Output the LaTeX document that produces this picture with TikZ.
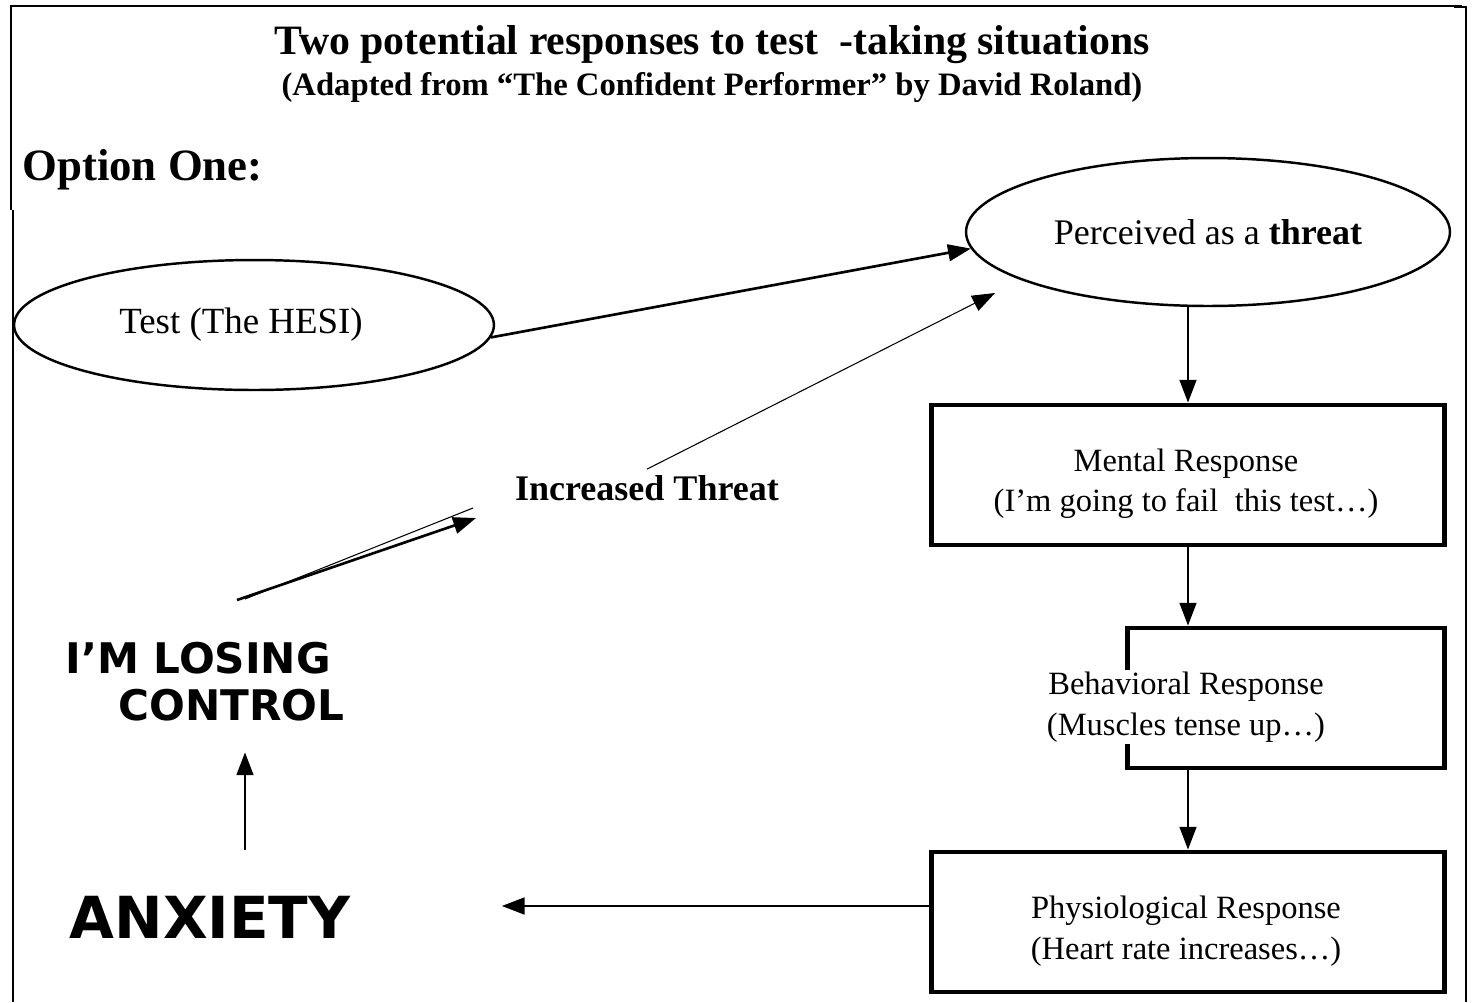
\documentclass[tikz,border=0pt]{standalone}
\usepackage{fontspec}
\setmainfont{Liberation Serif}
\newfontfamily\funky{DejaVu Sans}
\usetikzlibrary{arrows.meta, shapes.geometric, calc, positioning}

\begin{document}
\begin{tikzpicture}[x=0.02cm, y=-0.02cm,
    >={Triangle[length=13pt,width=9.5pt]},
    txt/.style={font=\fontsize{18.5}{23}\selectfont, align=center},
    oval/.style={draw, ellipse, line width=1.4pt, align=center, font=\fontsize{20.5}{24}\selectfont},
    resp/.style={draw, line width=2.7pt, minimum height=2.8cm},
    wild/.style={inner sep=0pt, font=\funky\bfseries}]
    \useasboundingbox (0,0) rectangle (1472,1002);

    % frame
    \draw[line width=0.8pt] (10,6) -- (1462,6);
    \draw[line width=0.9pt] (11,6) -- (11,210);
    \draw[line width=1.2pt] (13,210) -- (13,1002);
    \draw[line width=1.6pt] (1454,7) -- (1466,7) -- (1466,1002);

    % headings
    \node[font=\bfseries\fontsize{23.8}{28}\selectfont] (title) at (712,45) {Two potential responses to test\ \ -taking situations};
    \node[font=\bfseries\fontsize{18.6}{22}\selectfont] (sub) at (712,88) {(Adapted from “The Confident Performer” by David Roland)};
    \node[font=\bfseries\fontsize{25.5}{30}\selectfont, anchor=west, inner sep=0pt] (opt) at (22,170) {Option One:};

    % ovals and boxes
    \node[oval, minimum width=9.6cm, minimum height=2.6cm] (test) at (254,325) {};
    \node[font=\fontsize{21}{25}\selectfont] (testtxt) at (241,325) {Test (The HESI)};
    \node[oval, minimum width=9.68cm, minimum height=2.96cm] (per) at (1208,232) {Perceived as a \textbf{threat}};
    \node[resp, minimum width=10.26cm] (ment) at (1188,475) {};
    \node[txt] (menttxt) at (1186,484) {Mental Response\\(I’m going to fail\ \ this test…)};
    \node[resp, minimum width=6.34cm] (behav) at (1286,698) {};
    \node[txt, fill=white, inner sep=1pt] (behavtxt) at (1186,707) {Behavioral Response\\(Muscles tense up…)};
    \node[resp, minimum width=10.26cm] (phys) at (1188,922) {};
    \node[txt] (physxt) at (1186,931) {Physiological Response\\(Heart rate increases…)};

    % loop on the left
    \node[font=\bfseries\fontsize{20.5}{24}\selectfont] (inc) at (647,488) {Increased Threat};
    \node[wild, font=\funky\bfseries\fontsize{24}{26.6}\selectfont, align=left, anchor=north west] (lc) at (65,642) {I’M LOSING\\\hspace*{1.06cm}CONTROL};
    \node[wild, font=\funky\bfseries\fontsize{33}{36}\selectfont] (anx) at (210,917) {ANXIETY};

    \coordinate (thB) at (995,293);
    \coordinate (dbA) at (237,600);
    \coordinate (dbB) at (476,518);
    \coordinate (dbC) at (245,599);
    \coordinate (dbD) at (473,508);

    \draw[line width=1.5pt]
    (test.-3) edge[->] (per.184)
    (per.south -| ment.north) edge[->] (ment.north)
    (ment.south) edge[->] (behav.north -| ment.south)
    (behav.south -| ment.south) edge[->] (phys.north)
    ([yshift=0.32cm]phys.west) edge[->, shorten >=3.02cm] ([yshift=0.32cm]phys.west -| anx.east)
    ([xshift=0.7cm]anx.north) edge[->, shorten <=0.92cm, shorten >=0.62cm] ([xshift=0.7cm]anx.north |- lc.south)
    (dbA) edge[->] (dbB);
    \draw[line width=0.6pt] (dbC) -- (dbD);
    \draw[line width=0.6pt, ->] (inc.north) -- (thB);
\end{tikzpicture}
\end{document}
